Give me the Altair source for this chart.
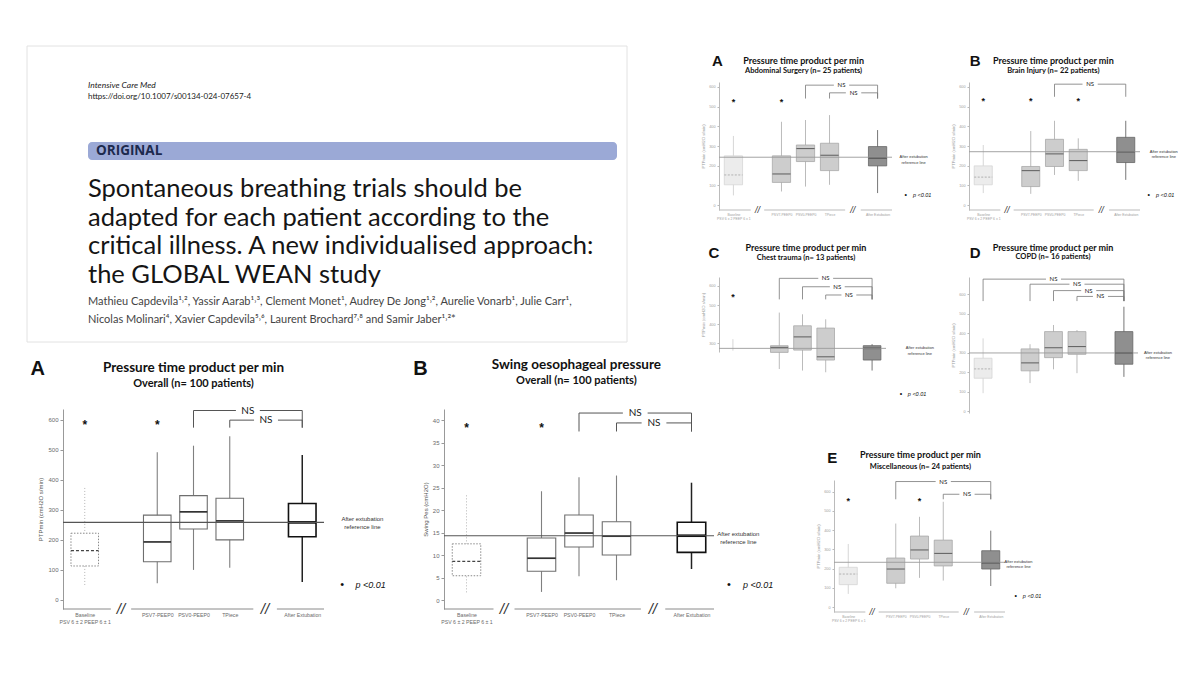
import altair as alt
import pandas as pd

# ------------------------------------------------------------------ data
CATEGORIES = ["Baseline", "PSV7-PEEP0", "PSV0-PEEP0", "TPiece", "After Extubation"]
BASELINE_DETAIL = "PSV 6 ± 2 PEEP 6 ± 1"

# one entry per category: [lower whisker, Q1, median, Q3, upper whisker]
PTP_OVERALL = [[50, 113, 164, 222, 378], [56, 127, 193, 282, 491], [100, 236, 293, 347, 513],
               [107, 200, 263, 338, 544], [60, 210, 258, 321, 482]]
SWING_OVERALL = [[1.7, 5.4, 8.6, 12.5, 23.3], [1.8, 6.4, 9.3, 13.8, 24.2], [5.3, 11.8, 14.9, 18.9, 27.3],
                 [4.4, 10.0, 14.2, 17.4, 27.7], [6.9, 10.6, 14.3, 17.3, 26.1]]
PTP_ABDOMINAL = [[49, 103, 153, 250, 351], [69, 115, 158, 250, 423], [94, 221, 287, 305, 432],
                 [103, 175, 253, 314, 457], [61, 199, 240, 297, 381]]
PTP_BRAIN = [[61, 103, 142, 199, 305], [57, 94, 175, 196, 376], [153, 196, 260, 334, 428],
             [123, 175, 226, 283, 339], [128, 216, 271, 344, 428]]
PTP_CHEST = [[262, None, None, None, 322], [166, 253, 279, 288, 461], [158, 265, 334, 392, 452],
             [149, 213, 230, 380, 426], [158, 213, 274, 288, 296]]
PTP_COPD = [[92, 169, 217, 272, 374], [144, 207, 248, 320, 344], [215, 275, 326, 409, 443],
            [195, 292, 332, 409, 417], [176, 241, 299, 409, 537]]
PTP_MISC = [[69, 117, 172, 207, 328], [98, 124, 198, 255, 434], [152, 250, 297, 369, 469],
            [138, 214, 279, 348, 547], [110, 198, 231, 293, 397]]

# after-extubation reference line of each panel
REF_OVERALL_PTP, REF_OVERALL_SWING = 258, 14.3
REF_ABDOMINAL, REF_BRAIN, REF_CHEST, REF_COPD, REF_MISC = 243, 271, 274, 299, 233

# NS comparisons: (from category, to category, bracket level)
NS_OVERALL_PTP = [(2, 4, 630), (3, 4, 598)]
NS_OVERALL_SWING = [(2, 4, 41.6), (3, 4, 39.4)]
NS_ABDOMINAL = [(2, 4, 609), (3, 4, 570)]
NS_BRAIN = [(2, 4, 614)]
NS_CHEST = [(1, 4, 640), (2, 4, 596), (3, 4, 553)]
NS_COPD = [(0, 4, 679), (1, 4, 653), (2, 4, 620), (3, 4, 590)]
NS_MISC = [(1, 4, 652), (3, 4, 586)]

# categories flagged * (p < 0.01)
STAR_OVERALL_PTP = [0, 1]
STAR_OVERALL_SWING = [0, 1]
STAR_ABDOMINAL = [0, 1]
STAR_BRAIN = [0, 1, 3]
STAR_CHEST = [0]
STAR_COPD = []
STAR_MISC = [0, 2]

PANEL_LETTERS = ["A", "B", "A", "B", "C", "D", "E"]
PANEL_TITLES = ["Pressure time product per min", "Swing oesophageal pressure"] + ["Pressure time product per min"] * 5
PANEL_SUBTITLES = ["Overall (n= 100 patients)", "Overall (n= 100 patients)",
                   "Abdominal Surgery  (n= 25 patients)", "Brain Injury (n= 22 patients)",
                   "Chest trauma (n= 13 patients)", "COPD (n= 16 patients)",
                   "Miscellaneous (n= 24 patients)"]
Y_TITLES = ["PTPmin (cmH2O s/min)", "Swing Pes (cmH2O)"] + ["PTPmin (cmH2O s/min)"] * 5

JOURNAL = "Intensive Care Med"
DOI = "https://doi.org/10.1007/s00134-024-07657-4"
BANNER = "ORIGINAL"
TITLE_LINES = ["Spontaneous breathing trials should be",
               "adapted for each patient according to the",
               "critical illness. A new individualised approach:",
               "the GLOBAL WEAN study"]
AUTHOR_LINES = ["Mathieu Capdevila¹˒², Yassir Aarab¹˒³, Clement Monet¹, Audrey De Jong¹˒², Aurelie Vonarb¹, Julie Carr¹,",
                "Nicolas Molinari⁴, Xavier Capdevila⁵˒⁶, Laurent Brochard⁷˒⁸ and Samir Jaber¹˒²*"]
NOTE_TEXT = "After extubation\nreference line"
P_TEXT = "p <0.01"

# ------------------------------------------------------------------ layout / style
SLOT = [0, 2, 3, 4, 6]
KIND = ["base", "mid", "mid", "mid", "after"]
BREAK_SLOTS = [1.0, 4.97]
AXIS_SEGMENTS = [(-0.6, 0.72), (1.28, 4.65), (5.3, 6.6)]
XDOM = [-0.6, 6.6]
BOX_HALF = 0.38
TFONT = "Lato"
AFONT = "Liberation Sans"

label_expr = "'" + CATEGORIES[-1] + "'"
for slot, cat in reversed(list(zip(SLOT[:-1], CATEGORIES[:-1]))):
    lab = "['%s', '%s']" % (cat, BASELINE_DETAIL) if cat == "Baseline" else "'%s'" % cat
    label_expr = "datum.value == %s ? %s : %s" % (slot, lab, label_expr)

BIG = dict(
    style={
        "base": dict(wh=dict(color="#b5b5b5", strokeWidth=1, strokeDash=[1, 2]),
                     box=dict(fill="white", stroke="#8a8a8a", strokeWidth=1, strokeDash=[1.5, 1.5]),
                     med=dict(color="#444444", strokeWidth=1.3, strokeDash=[3, 2])),
        "mid": dict(wh=dict(color="#808080", strokeWidth=1.1),
                    box=dict(fill="white", stroke="#6e6e6e", strokeWidth=1.1),
                    med=dict(color="#333333", strokeWidth=1.7)),
        "after": dict(wh=dict(color="#222222", strokeWidth=1.5),
                      box=dict(fill="white", stroke="#111111", strokeWidth=1.6),
                      med=dict(color="#000000", strokeWidth=2.6)),
    },
    ref=dict(color="#555555", strokeWidth=1.2), bracket=dict(color="#555555", strokeWidth=1),
    xlab=5.2, xpad=3, xlh=7.5, ylab=6, labcol="#6a6a6a", axcol="#999999", tick=3, ytitle=6,
    titlecol="#555555", tpad=4, letter=20, title=13.5, sub=11, ns=10, star=12, note=6, p=9,
    dot=11, brk=15, gap=0.33, pgap=0.37, segcol="#8a8a8a",
)
SMALL = dict(
    style={
        "base": dict(wh=dict(color="#cccccc", strokeWidth=0.8),
                     box=dict(fill="#ececec", stroke="#d6d6d6", strokeWidth=0.8),
                     med=dict(color="#aaaaaa", strokeWidth=0.9, strokeDash=[2, 1.5])),
        "mid": dict(wh=dict(color="#aaaaaa", strokeWidth=0.8),
                    box=dict(fill="#cdcdcd", stroke="#a8a8a8", strokeWidth=0.8),
                    med=dict(color="#666666", strokeWidth=1.1)),
        "after": dict(wh=dict(color="#777777", strokeWidth=1),
                      box=dict(fill="#8f8f8f", stroke="#666666", strokeWidth=0.8),
                      med=dict(color="#333333", strokeWidth=1.4)),
    },
    ref=dict(color="#9a9a9a", strokeWidth=0.9), bracket=dict(color="#777777", strokeWidth=0.8),
    xlab=3.4, xpad=2, xlh=4.5, ylab=3.8, labcol="#a0a0a0", axcol="#bbbbbb", tick=2, ytitle=4.2,
    titlecol="#999999", tpad=3, letter=15, title=9, sub=7.5, ns=6, star=9, note=4, p=5.5,
    dot=7, brk=9, gap=0.32, pgap=0.3, segcol="#bbbbbb",
)


def build_panel(idx, stats, ref, brackets, leg, stars, star_level, ydom, yticks, w, h, big,
                letter_xy, title_x, title_y, sub_y, note_xy, p_xy, show_x):
    s = BIG if big else SMALL
    xs = alt.Scale(domain=XDOM, nice=False, zero=False)
    ys = alt.Scale(domain=ydom, nice=False, zero=False)
    if show_x:
        xaxis = alt.Axis(values=SLOT, labelExpr=label_expr, domain=False, ticks=False, grid=False,
                         labelFont=AFONT, labelFontSize=s["xlab"], labelColor=s["labcol"],
                         labelPadding=s["xpad"], labelLineHeight=s["xlh"], labelOverlap=False,
                         labelFlush=False, labelBound=False)
    else:
        xaxis = None
    yaxis = alt.Axis(values=yticks, grid=False, labelFont=AFONT, labelFontSize=s["ylab"],
                     labelColor=s["labcol"], domainColor=s["axcol"], tickColor=s["axcol"],
                     tickSize=s["tick"], labelPadding=2, titleFont=AFONT, titleFontSize=s["ytitle"],
                     titleColor=s["titlecol"], titleFontWeight="normal", titlePadding=s["tpad"],
                     labelFlush=False)

    def X(f):
        return alt.X(f, type="quantitative", scale=xs, axis=xaxis, title=None)

    def Y(f):
        return alt.Y(f, type="quantitative", scale=ys, axis=yaxis, title=Y_TITLES[idx])

    rows = []
    for i, st in enumerate(stats):
        lo, q1, med, q3, hi = st
        rows.append(dict(cat=CATEGORIES[i], pos=SLOT[i], kind=KIND[i], lo=lo, q1=q1, med=med, q3=q3, hi=hi))
    df = pd.DataFrame(rows)
    df["xl"] = df["pos"] - BOX_HALF
    df["xr"] = df["pos"] + BOX_HALF

    layers = []
    for kind in ["base", "mid", "after"]:
        d = df[df["kind"] == kind]
        sty = s["style"][kind]
        layers.append(alt.Chart(d).mark_rule(**sty["wh"]).encode(x=X("pos"), y=Y("lo"), y2="hi"))
        db = d.dropna(subset=["q1"])
        if len(db):
            layers.append(alt.Chart(db).mark_rect(**sty["box"]).encode(x=X("xl"), x2="xr", y=Y("q1"), y2="q3"))
            layers.append(alt.Chart(db).mark_rule(**sty["med"]).encode(x=X("xl"), x2="xr", y=Y("med")))

    layers.append(alt.Chart(pd.DataFrame({"ref": [ref]})).mark_rule(**s["ref"]).encode(y=Y("ref")))

    # x axis drawn as a broken baseline
    if show_x:
        segs = pd.DataFrame([dict(x1=a, x2=b, y=ydom[0]) for a, b in AXIS_SEGMENTS])
        layers.append(alt.Chart(segs).mark_rule(color=s["segcol"], strokeWidth=1).encode(x=X("x1"), x2="x2", y=Y("y")))
        brk = pd.DataFrame([dict(x=b, y=ydom[0], t="//") for b in BREAK_SLOTS])
        layers.append(alt.Chart(brk).mark_text(font=AFONT, fontSize=s["brk"], fontStyle="italic", color="#333333",
                                               baseline="middle").encode(x=X("x"), y=Y("y"), text="t:N"))

    # NS brackets
    seg, legs, labs = [], [], []
    for a, b, lev in brackets:
        xa, xb = SLOT[a], SLOT[b]
        mid = (xa + xb) / 2
        seg += [dict(x1=xa, x2=mid - s["gap"], y=lev), dict(x1=mid + s["gap"], x2=xb, y=lev)]
        legs += [dict(x=xa, y1=leg, y2=lev), dict(x=xb, y1=leg, y2=lev)]
        labs.append(dict(x=mid, y=lev, t="NS"))
    if brackets:
        layers.append(alt.Chart(pd.DataFrame(seg)).mark_rule(**s["bracket"]).encode(x=X("x1"), x2="x2", y=Y("y")))
        layers.append(alt.Chart(pd.DataFrame(legs)).mark_rule(**s["bracket"]).encode(x=X("x"), y=Y("y1"), y2="y2"))
        layers.append(alt.Chart(pd.DataFrame(labs)).mark_text(font=TFONT, fontSize=s["ns"], color="#222222",
                                                              baseline="middle").encode(x=X("x"), y=Y("y"), text="t:N"))
    if stars:
        sd = pd.DataFrame([dict(x=SLOT[c], y=star_level, t="*") for c in stars])
        layers.append(alt.Chart(sd).mark_text(font=AFONT, fontSize=s["star"], fontWeight="bold", color="#111111",
                                              baseline="middle", dy=s["star"] * 0.22).encode(x=X("x"), y=Y("y"), text="t:N"))

    nd = pd.DataFrame([dict(x=note_xy[0], y=note_xy[1], t=NOTE_TEXT)])
    layers.append(alt.Chart(nd).mark_text(font=AFONT, fontSize=s["note"], color="#333333", lineBreak="\n",
                                          align="center", baseline="middle", lineHeight=s["note"] * 1.35)
                  .encode(x=X("x"), y=Y("y"), text="t:N"))
    if p_xy is not None:
        dd = pd.DataFrame([dict(x=p_xy[0], y=p_xy[1], t="•")])
        layers.append(alt.Chart(dd).mark_text(font=AFONT, fontSize=s["dot"], color="#111111", align="center",
                                              baseline="middle").encode(x=X("x"), y=Y("y"), text="t:N"))
        pd_ = pd.DataFrame([dict(x=p_xy[0] + s["pgap"], y=p_xy[1], t=P_TEXT)])
        layers.append(alt.Chart(pd_).mark_text(font=AFONT, fontSize=s["p"], fontStyle="italic", color="#111111",
                                               align="left", baseline="middle").encode(x=X("x"), y=Y("y"), text="t:N"))

    ld = pd.DataFrame([dict(x=letter_xy[0], y=letter_xy[1], t=PANEL_LETTERS[idx])])
    layers.append(alt.Chart(ld).mark_text(font=AFONT, fontSize=s["letter"], fontWeight="bold", color="#111111",
                                          baseline="middle").encode(x=X("x"), y=Y("y"), text="t:N"))
    td = pd.DataFrame([dict(x=title_x, y=title_y, t=PANEL_TITLES[idx])])
    layers.append(alt.Chart(td).mark_text(font=TFONT, fontSize=s["title"], fontWeight="bold", color="#111111",
                                          baseline="middle").encode(x=X("x"), y=Y("y"), text="t:N"))
    sd2 = pd.DataFrame([dict(x=title_x, y=sub_y, t=PANEL_SUBTITLES[idx])])
    layers.append(alt.Chart(sd2).mark_text(font=TFONT, fontSize=s["sub"], fontWeight="bold", color="#111111",
                                           baseline="middle").encode(x=X("x"), y=Y("y"), text="t:N"))
    return alt.layer(*layers).properties(width=w, height=h)


PTP_TICKS = list(range(0, 601, 100))

big_a = build_panel(0, PTP_OVERALL, REF_OVERALL_PTP, NS_OVERALL_PTP, 573, STAR_OVERALL_PTP, 589,
                    [-30, 635], PTP_TICKS, 261, 200, True, (-1.3, 767), 3.0, 770, 717,
                    (7.66, 268), (7.1, 50), True)
big_b = build_panel(1, SWING_OVERALL, REF_OVERALL_SWING, NS_OVERALL_SWING, 37.5, STAR_OVERALL_SWING, 38.8,
                    [-2, 42.5], list(range(0, 41, 5)), 270, 200, True, (-1.23, 51.3), 2.93, 52.2, 48.7,
                    (7.25, 14.6), (7.0, 3.3), True)
s_a = build_panel(2, PTP_ABDOMINAL, REF_ABDOMINAL, NS_ABDOMINAL, 541, STAR_ABDOMINAL, 533,
                  [-25, 625], PTP_TICKS, 173, 128, False, (-0.67, 733), 2.92, 733, 680,
                  (7.5, 243), (7.17, 49), True)
s_b = build_panel(3, PTP_BRAIN, REF_BRAIN, NS_BRAIN, 550, STAR_BRAIN, 541,
                  [-25, 625], PTP_TICKS, 171, 128, False, (-0.34, 733), 2.95, 733, 680,
                  (7.6, 271), (6.97, 49), True)
s_c = build_panel(4, PTP_CHEST, REF_CHEST, NS_CHEST, 530, STAR_CHEST, 553,
                  [255, 647], [300, 400, 500, 600], 167, 75, False, (-0.82, 773), 3.15, 800, 747,
                  (8.06, 274), (7.24, 37), False)
s_d = build_panel(5, PTP_COPD, REF_COPD, NS_COPD, 566, STAR_COPD, 560,
                  [-10, 690], PTP_TICKS, 169, 136, False, (-0.34, 812), 2.98, 841, 795,
                  (7.45, 299), None, False)
s_e = build_panel(6, PTP_MISC, REF_MISC, NS_MISC, 560, STAR_MISC, 560,
                  [-25, 660], PTP_TICKS, 171, 132, False, (-0.67, 772), 3.04, 788, 730,
                  (7.17, 235), (7.05, 60), True)

# ------------------------------------------------------------------ paper header
hx = alt.Scale(domain=[8, 628], nice=False, zero=False)
hy = alt.Scale(domain=[8, 348], nice=False, zero=False, reverse=True)


def HX(f):
    return alt.X(f, type="quantitative", scale=hx, axis=None)


def HY(f):
    return alt.Y(f, type="quantitative", scale=hy, axis=None)


def htext(rows, **kw):
    return alt.Chart(pd.DataFrame(rows)).mark_text(align="left", baseline="middle", **kw).encode(
        x=HX("x"), y=HY("y"), text="t:N")


TEXT_X = 88
header = alt.layer(
    alt.Chart(pd.DataFrame([dict(x=27, x2=627, y=46, y2=342)])).mark_rect(
        fill="white", stroke="#e2e2e2", strokeWidth=1).encode(x=HX("x"), x2="x2", y=HY("y"), y2="y2"),
    alt.Chart(pd.DataFrame([dict(x=TEXT_X, x2=617, y=142, y2=160)])).mark_rect(
        fill="#9ba9d6", cornerRadius=4).encode(x=HX("x"), x2="x2", y=HY("y"), y2="y2"),
    htext([dict(x=TEXT_X, y=85, t=JOURNAL)], font=TFONT, fontSize=8.5, fontStyle="italic", color="#222222"),
    htext([dict(x=TEXT_X, y=97, t=DOI)], font=TFONT, fontSize=8, color="#222222"),
    htext([dict(x=TEXT_X + 8, y=151, t=BANNER)], font="Open Sans", fontSize=13.5, fontWeight="bold", color="#1d2a4d"),
    htext([dict(x=TEXT_X, y=y, t=t) for y, t in zip([189, 217.5, 246, 274.5], TITLE_LINES)],
          font=TFONT, fontSize=25.5, color="#151515"),
    htext([dict(x=TEXT_X, y=y, t=t) for y, t in zip([302, 320], AUTHOR_LINES)],
          font=TFONT, fontSize=11, color="#444444"),
).properties(width=620, height=340)


def spacer(w, h):
    return alt.Chart(pd.DataFrame({"v": [0]})).mark_point(size=0, opacity=0).encode(
        x=alt.value(0), y=alt.value(0)).properties(width=w, height=h)


# Plot-area based ("flush") placement, so panels can share space as in the collage.
# With flush bounds a nested concat counts as zero size, so spacers carry the full offsets.
big_row = alt.hconcat(spacer(55, 1), big_a, spacer(119.5, 1), big_b, spacing=0, bounds="flush")
left = alt.vconcat(header, big_row, spacing=61, bounds="flush")
row_ab = alt.hconcat(s_a, spacer(77, 1), s_b, spacing=0, bounds="flush")
row_cd = alt.hconcat(s_c, spacer(83, 1), s_d, spacing=0, bounds="flush")
row_e = alt.hconcat(spacer(115, 1), s_e, spacing=0, bounds="flush")
right = alt.vconcat(spacer(1, 73.5), row_ab, spacer(1, 194.5), row_cd, spacer(1, 203), row_e,
                    spacing=0, bounds="flush")

chart = alt.hconcat(left, spacer(711, 1), right, spacing=0, bounds="flush").properties(
    padding=0).configure_view(stroke=None)

chart.save("out.html", embed_options={"renderer": "svg", "actions": False})
